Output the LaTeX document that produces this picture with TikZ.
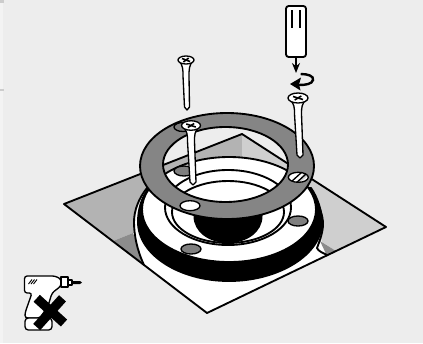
\documentclass[tikz,border=0pt]{standalone}
\usetikzlibrary{arrows.meta}
\definecolor{paper}{HTML}{EDEDED}
\definecolor{strip}{HTML}{F3F3F3}
\definecolor{tick}{HTML}{CCCCCC}
\definecolor{ringgray}{HTML}{858585}
\definecolor{darkgray}{HTML}{8C8C8C}
\definecolor{leftgray}{HTML}{B3B3B3}
\definecolor{rightgray}{HTML}{CFCFCF}
\definecolor{holegray}{HTML}{7F7F7F}
\tikzset{
  outline/.style={draw=black, line width=1.4pt, line join=round},
  thinline/.style={draw=black, line width=1pt, line join=round},
  screwpart/.style={thinline, fill=white},
  hole/.style={thinline, fill=holegray},
  cross/.style={draw=black, line width=1.2pt}
}
\begin{document}
\begin{tikzpicture}[x=.75pt,y=-.75pt]
  \useasboundingbox (0,0) rectangle (423,343);
  \fill[paper] (0,0) rectangle (423,343);
  \fill[strip] (0,0) rectangle (3,343);
  \fill[tick] (0,0) rectangle (4,3);
  \fill[tick] (0,89) rectangle (4,91);

  \fill[white] (64,204) -- (242,134) -- (386,227) -- (207,313) -- cycle;
  \fill[leftgray] (64,204) -- (242,134) -- (242,200) -- (133,233) -- (113,241) -- cycle;
  \fill[rightgray] (242,134) -- (386,227) -- (336,251) -- (322,242) -- (310,200) -- (242,200) -- cycle;
  \fill[darkgray] (113,241) -- (133,233) -- (144,265) -- cycle;
  \fill[darkgray] (320,241) -- (336,251) -- (327,256) -- cycle;

  \fill[white] (144,265) -- (147,188) -- (313,197) -- (323,223) -- (317,248) -- (327,255) -- (207,313) -- cycle;
  \path[fill=white, outline] (144,265) .. controls (137,250) and (134,235) .. (134,222)
    .. controls (134,210) and (139,198) .. (147,188) -- (313,197)
    .. controls (319,205) and (323,215) .. (323,224)
    .. controls (323,232) and (320,240) .. (317,248)
    .. controls (318,251) and (323,253) .. (327,255);
  \draw[outline] (64,204) -- (242,134) -- (386,227) -- (207,313) -- cycle;

  \path[fill=black, outline] (149,188) .. controls (141,198) and (138,210) .. (138,222)
    .. controls (138,255) and (180,281) .. (229,281)
    .. controls (278,281) and (322,255) .. (322,222)
    .. controls (322,212) and (318,198) .. (311,188) -- cycle;
  \path[fill=white, outline] (229,209.5) ellipse [x radius=87, y radius=52.5];

  \draw[outline] (228,207.5) ellipse [x radius=63, y radius=37.5];
  \draw[outline] (228,212) ellipse [x radius=56, y radius=31];
  \fill[black] (193.5,205) -- (262.5,205) -- (262.5,216)
    .. controls (262.5,232) and (247,243) .. (228,243)
    .. controls (209,243) and (193.5,232) .. (193.5,216) -- cycle;
  \foreach \hx/\hy in {191/249, 298/221, 184/171}
    \path[hole] (\hx,\hy) ellipse [x radius=10, y radius=5];

  \path[fill=ringgray, even odd rule, outline] (227,166) ellipse [x radius=87, y radius=53]
    (225.5,164.5) ellipse [x radius=62.5, y radius=37.5];
  \path[screwpart] (190,205.7) ellipse [x radius=10, y radius=5];
  \begin{scope}
    \clip (298.3,177.3) ellipse [x radius=10, y radius=5];
    \fill[white] (285,170) rectangle (312,185);
    \fill[rightgray] (296,185) -- (312,173) -- (306,170) -- cycle;
    \draw[thinline] (291,182) -- (302,172);
    \draw[thinline] (295,184) -- (306,174);
  \end{scope}
  \path[thinline] (298.3,177.3) ellipse [x radius=10, y radius=5];
  \path[hole] (183,127) ellipse [x radius=9, y radius=4.5];

  \foreach \sx/\sy/\sr/\sw/\tx/\ty in {186/60/8/3/187/110, 191/125.5/9.5/3.5/193/185, 298/98/10/3.5/300/158} {
    \path[screwpart] (\sx-\sr+1,\sy+1) .. controls (\sx-\sw,\sy+5) and (\sx-\sw,\sy+10) .. (\sx-\sw,\sy+16)
      -- (\tx-\sw+.5,\ty-3) -- (\tx,\ty) -- (\tx+\sw-.5,\ty-3) -- (\sx+\sw,\sy+16)
      .. controls (\sx+\sw,\sy+10) and (\sx+\sw,\sy+5) .. (\sx+\sr-1,\sy+1) -- cycle;
    \path[screwpart] (\sx,\sy) ellipse [x radius=\sr, y radius=\sr/2];
    \draw[cross] (\sx-\sr/2,\sy-1.5) -- (\sx+\sr/2,\sy+1.5);
    \draw[cross] (\sx-\sr/3,\sy+2) -- (\sx+\sr/3,\sy-2);
  }

  \path[fill=white, outline, rounded corners=2pt] (286,6) rectangle (306,57);
  \draw[outline] (292,10) -- (292,28);
  \draw[outline] (300,10) -- (300,28);
  \draw[-{Stealth[length=7.5pt,width=6pt]}, outline] (296,57) -- (296,73);
  \draw[draw=black, line width=1.8pt] (300.7,74) .. controls (308,74) and (314,76) .. (313,80)
    .. controls (312,84) and (306,85) .. (299,85);
  \fill[black] (290,84) -- (301,77.5) -- (299,84.5) -- (300.5,90.5) -- cycle;

  \path[screwpart, rounded corners=2pt] (24.5,293) -- (24.5,276) -- (55,276) -- (61,279) -- (61,286)
    -- (52,293) -- (48,306) -- (40,318) -- (25,318) -- (25,313) -- (32,293) -- cycle;
  \path[screwpart, rounded corners=2.5pt] (25,318) rectangle (52,330);
  \path[screwpart] (61,277) rectangle (68,287);
  \path[screwpart] (68,280) rectangle (72,285);
  \fill[black] (72,281) -- (80,281) -- (82,282.5) -- (80,284) -- (72,284) -- cycle;
  \foreach \dx in {28.5,31,33.5}
    \draw[cross, line width=.7pt] (\dx,284) -- (\dx+3.5,279.5);
  \draw[draw=black, line width=7pt] (36.7,298.3) -- (64,323);
  \draw[draw=black, line width=7pt] (62.5,298.3) -- (36.7,327);
\end{tikzpicture}
\end{document}
